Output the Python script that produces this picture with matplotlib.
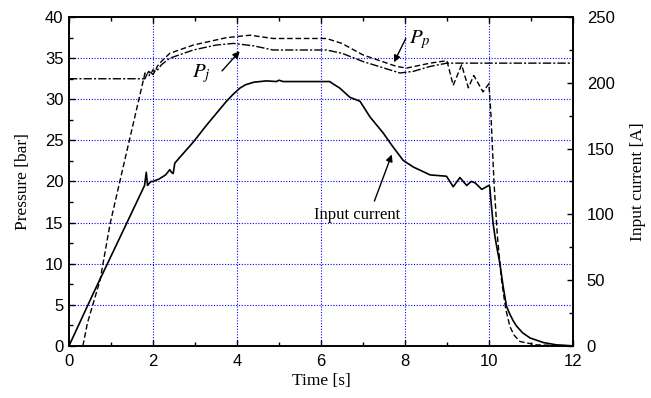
import numpy as np
import matplotlib
matplotlib.use("Agg")
import matplotlib.pyplot as plt
from matplotlib.ticker import MultipleLocator

# Input current [A] (right axis)
t_cur = [0, 0.58, 1.37, 1.80, 1.84, 1.87, 1.95, 2.0, 2.15, 2.3, 2.40, 2.44, 2.48, 2.52,
         2.96, 3.28, 3.75, 3.9, 4.07, 4.2, 4.4, 4.7, 4.94, 5.0, 5.1, 5.5, 6.21, 6.3,
         6.45, 6.69, 6.93, 7.17, 7.48, 7.7, 7.96, 8.2, 8.60, 8.99, 9.15, 9.31, 9.47,
         9.58, 9.67, 9.83, 10.0, 10.02, 10.05, 10.10, 10.15, 10.2, 10.26, 10.34, 10.42,
         10.5, 10.58, 10.66, 10.8, 10.98, 11.3, 11.6, 12.0]
current = [0, 40, 93, 122, 132, 122, 125, 125, 127, 130, 134, 132, 131, 139,
           155, 168, 186, 191, 196, 198.5, 200.5, 201.5, 201, 202, 201, 201, 201, 199,
           196, 189, 186, 174, 162, 152, 141, 136, 130, 129, 121, 128, 122,
           125, 124, 119, 122, 121, 110, 93, 82, 73, 63, 45, 30,
           24, 19, 15, 10, 6, 2.5, 0.8, 0]

# Pump pressure P_p [bar]
t_pp = [0.33, 0.44, 0.74, 0.98, 1.21, 1.81, 1.85, 1.9, 1.95, 2.0, 2.05, 2.1, 2.2, 2.40,
        2.96, 3.75, 4.31, 4.86, 6.13, 6.5, 7.0, 7.80, 8.04, 8.60, 9.0, 9.15, 9.35,
        9.51, 9.64, 9.86, 10.0, 10.05, 10.12, 10.2, 10.3, 10.4, 10.5, 10.6, 10.74,
        11.13, 12.0]
p_p = [0, 2.8, 8.0, 14.9, 20.0, 33.2, 33.0, 33.4, 33.1, 33.6, 33.3, 34.0, 34.6, 35.6,
       36.6, 37.5, 37.8, 37.4, 37.4, 36.8, 35.4, 34.0, 33.8, 34.4, 34.7, 31.7, 34.2,
       31.4, 32.9, 30.9, 31.9, 28.0, 20.0, 13.5, 8.0, 4.5, 2.35, 1.3, 0.53,
       0.12, 0]

# Jack pressure P_j [bar]
t_pj = [0, 1.81, 1.85, 1.9, 1.95, 2.0, 2.05, 2.1, 2.2, 2.40, 2.96, 3.5, 3.91, 4.4,
        4.86, 6.13, 6.5, 7.0, 7.88, 8.2, 8.6, 9.0, 12.0]
p_j = [32.5, 32.5, 33.0, 32.8, 33.3, 33.0, 33.5, 33.5, 34.2, 35.0, 36.0, 36.6, 36.8, 36.5,
       36.0, 36.0, 35.6, 34.6, 33.2, 33.4, 34.0, 34.4, 34.4]

serif = "Liberation Serif"
sans = "Liberation Sans"
plt.rcParams["mathtext.fontset"] = "stix"

fig = plt.figure(figsize=(6.51, 3.98), dpi=100)
ax = fig.add_axes([0.106, 0.131, 0.774, 0.826])
ax2 = ax.twinx()

ax.plot(t_pp, p_p, color="black", lw=1.0, dashes=(4, 2))
ax.plot(t_pj, p_j, color="black", lw=1.0, dashes=(6, 1.5, 1.5, 1.5))
ax2.plot(t_cur, current, color="black", lw=1.2)

ax.set_xlim(0, 12)
ax.set_ylim(0, 40)
ax2.set_ylim(0, 250)

ax.xaxis.set_major_locator(MultipleLocator(2))
ax.xaxis.set_minor_locator(MultipleLocator(1))
ax.yaxis.set_major_locator(MultipleLocator(5))
ax.yaxis.set_minor_locator(MultipleLocator(2.5))
ax2.yaxis.set_major_locator(MultipleLocator(50))
ax2.yaxis.set_minor_locator(MultipleLocator(25))

for a in (ax, ax2):
    a.tick_params(which="both", direction="in", top=True, labelsize=12)
    a.tick_params(which="major", length=4, width=1)
    a.tick_params(which="minor", length=3, width=1)
    for lab in a.get_xticklabels() + a.get_yticklabels():
        lab.set_fontfamily(sans)
    for s in a.spines.values():
        s.set_linewidth(1.2)
ax.tick_params(right=False, which="both")
ax.tick_params(axis="x", pad=6)
ax.tick_params(axis="y", pad=4)
ax2.tick_params(axis="y", pad=10)

for yv in range(5, 40, 5):
    ax.axhline(yv, color="#0000ff", lw=0.8, ls=(0, (1, 1.5)), zorder=0)
for xv in range(2, 12, 2):
    ax.axvline(xv, color="#0000ff", lw=0.8, ls=(0, (1, 1.5)), zorder=0)

ax.set_xlabel("Time [s]", fontfamily=serif, fontsize=12.5, labelpad=3)
ax.set_ylabel("Pressure [bar]", fontfamily=serif, fontsize=12.5, labelpad=10)
ax2.set_ylabel("Input current [A]", fontfamily=serif, fontsize=12.5, labelpad=11)

arrow = dict(arrowstyle="-|>", color="black", lw=1.0, mutation_scale=10)
ax.text(3.15, 33.1, "$P_j$", fontsize=15, ha="center", va="center")
ax.annotate("", xy=(4.11, 36.1), xytext=(3.6, 33.2), arrowprops=arrow)
ax.text(8.35, 37.3, "$P_p$", fontsize=15, ha="center", va="center")
ax.annotate("", xy=(7.71, 34.2), xytext=(8.05, 37.7), arrowprops=arrow)
ax.text(6.86, 15.9, "Input current", fontfamily=serif, fontsize=12,
        ha="center", va="center")
ax.annotate("", xy=(7.71, 23.6), xytext=(7.25, 17.3), arrowprops=arrow)

fig.savefig("out.png", dpi=100)
